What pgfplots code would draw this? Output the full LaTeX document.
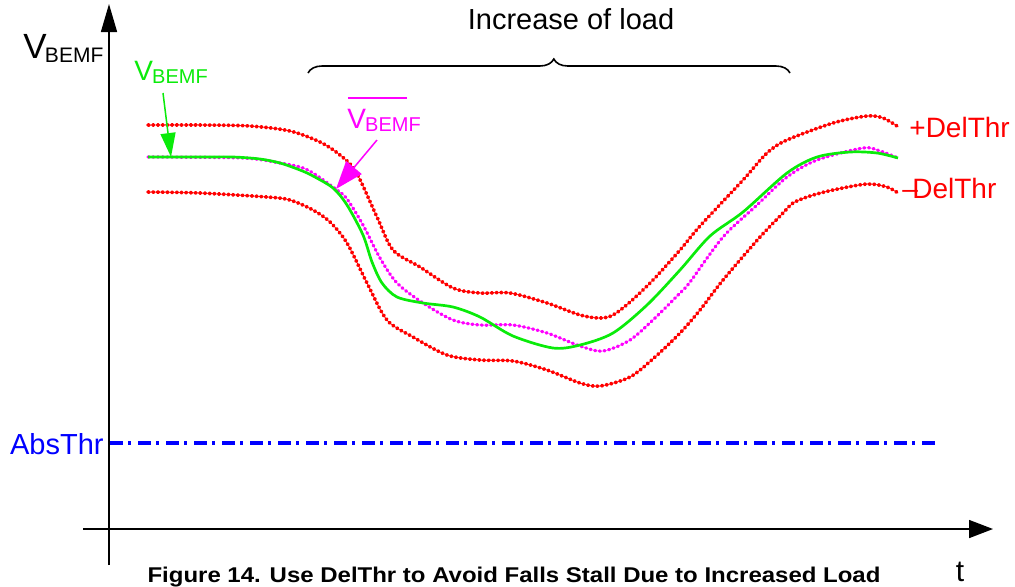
\documentclass[border=0pt]{standalone}
\usepackage{pgfplots}
\pgfplotsset{compat=1.18}
\usepackage{fontspec}
\setmainfont{Liberation Sans}
\usetikzlibrary{arrows.meta,decorations.pathreplacing}
\definecolor{rd}{RGB}{255,0,0}
\definecolor{mg}{RGB}{255,0,255}
\definecolor{gr}{RGB}{10,235,10}
\definecolor{bl}{RGB}{0,0,255}
\tikzset{dotline/.style={line width=1.8pt, line cap=round, dash pattern=on 0.6pt off 1.75pt}}
\begin{document}
\begin{tikzpicture}
\begin{axis}[scale only axis, width=507.5pt, height=293pt,
  xmin=0, xmax=1015, ymin=0, ymax=586, y dir=reverse,
  axis lines=none, clip=false]
% upper threshold (+DelThr)
\addplot[rd, dotline, smooth, tension=0.5] coordinates {
(148,125) (200,125) (250,126) (290,131) (320,142) (340,155) (356,172)
(377,217) (393,250) (420,267) (453,288) (480,293) (510,293) (547,303) (580,315)
(600,318) (613,315) (630,302) (653,280) (680,250) (700,226) (743,180) (767,153)
(787,140) (833,123) (867,116) (883,118) (897,126)};
% lower threshold (-DelThr)
\addplot[rd, dotline, smooth, tension=0.5] coordinates {
(148,192) (200,193) (267,197) (290,200) (313,210) (330,222) (347,243) (367,283)
(387,320) (413,337) (447,355) (480,360) (513,361) (547,370) (580,383) (600,386)
(630,377) (655,357) (680,333) (700,310) (723,280) (760,237) (783,213) (793,203)
(810,196) (833,190) (867,184) (887,187) (898,193)};
% averaged V_BEMF
\addplot[mg, dotline, line width=1.6pt, smooth, tension=0.5] coordinates {
(148,157) (243,158) (280,163) (300,167) (313,173) (337,190) (347,199) (363,225)
(380,258) (397,283) (423,303) (453,320) (480,325) (513,325) (547,333) (580,346)
(603,351) (630,340) (655,318) (680,293) (690,282) (723,237) (757,205) (787,177)
(817,160) (863,148) (880,151) (898,158)};
% V_BEMF
\addplot[gr, line width=1.35pt, smooth, tension=0.5] coordinates {
(148,157) (200,157) (233,157) (260,159) (280,163) (300,170) (313,176) (333,188)
(347,205) (363,235) (372,262) (382,283) (397,297) (423,303) (453,307) (480,317)
(513,336) (553,348) (580,345) (613,333) (647,305) (680,270) (710,236) (743,212)
(787,173) (817,157) (850,152) (877,153) (898,158)};
% AbsThr
\addplot[bl, line width=1.8pt, dash pattern=on 6.5pt off 2.6pt on 1.4pt off 3.5pt] coordinates {(110,443) (935,443)};
% axes
\draw[line width=0.75pt, -{Triangle[length=14pt,width=8pt]}] (axis cs:109,565) -- (axis cs:109,4);
\draw[line width=0.75pt, -{Triangle[length=12pt,width=9pt]}] (axis cs:83,529) -- (axis cs:993,529);
% brace
\draw[line width=0.8pt, decorate, decoration={brace, amplitude=7pt, aspect=0.51}] (axis cs:308,73) -- (axis cs:790,73);
\node[anchor=base, font=\fontsize{14.5}{16}\selectfont] at (axis cs:571,29) {Increase of load};
% labels
\node[anchor=base west, inner sep=0pt, font=\fontsize{17.5}{18}\selectfont] at (axis cs:23,58) {V\kern-0.05em\raisebox{-2pt}{\fontsize{10.5}{12}\selectfont BEMF}};
\node[anchor=base west, inner sep=0pt, gr, font=\fontsize{14}{16}\selectfont] at (axis cs:134,80) {V\kern-0.03em\raisebox{-1.5pt}{\fontsize{10}{12}\selectfont BEMF}};
\draw[gr, line width=0.75pt, -{Triangle[length=12pt,width=7.5pt]}] (axis cs:163,93) -- (axis cs:171,157);
\node[anchor=base west, inner sep=0pt, mg, font=\fontsize{14}{16}\selectfont] at (axis cs:347,128) {V\kern-0.03em\raisebox{-1.5pt}{\fontsize{10}{12}\selectfont BEMF}};
\draw[mg, line width=0.75pt] (axis cs:348,98) -- (axis cs:407,98);
\draw[mg, line width=0.75pt, -{Triangle[length=14pt,width=10pt]}] (axis cs:377,140) -- (axis cs:336,189);
\node[anchor=base west, inner sep=0pt, rd, font=\fontsize{14}{16}\selectfont] at (axis cs:909,137) {+DelThr};
\node[anchor=base west, inner sep=0pt, rd, font=\fontsize{14}{16}\selectfont] at (axis cs:902,198) {--\kern-0.2em DelThr};
\node[anchor=base east, inner sep=0pt, bl, font=\fontsize{14.5}{16}\selectfont] at (axis cs:104,454) {AbsThr};
\node[anchor=base, inner sep=0pt, font=\fontsize{15}{16}\selectfont] at (axis cs:960,581) {t};
\node[anchor=base, inner sep=0pt, font=\bfseries\fontsize{11}{12}\selectfont] at (axis cs:514,582) {\scalebox{1.09}[0.97]{Figure 14. Use DelThr to Avoid Falls Stall Due to Increased Load}};
\end{axis}
\pgfresetboundingbox
\path (0,0) rectangle (507.5pt,293pt);
\end{tikzpicture}
\end{document}
